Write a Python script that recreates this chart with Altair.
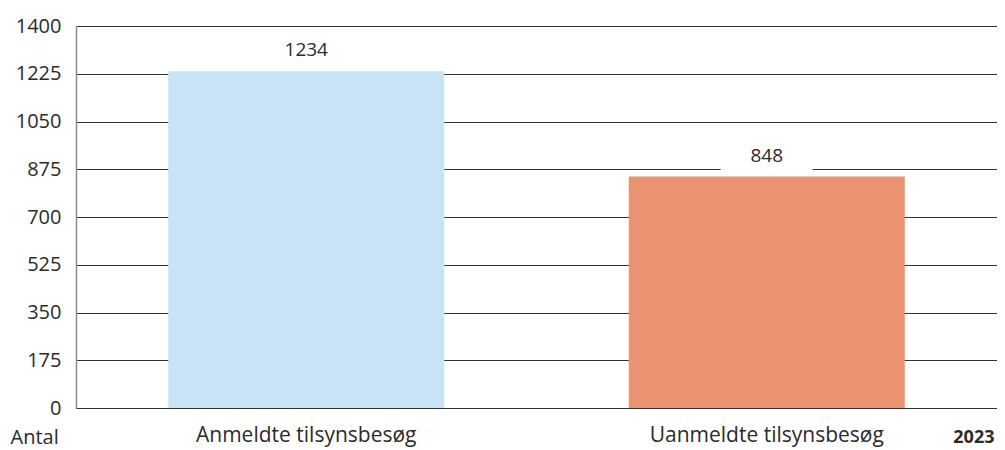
import altair as alt
import pandas as pd

categories = ["Anmeldte tilsynsbesøg", "Uanmeldte tilsynsbesøg"]
values = [1234, 848]
colors = ["#c8e3f5", "#ea9370"]
y_ticks = [0, 175, 350, 525, 700, 875, 1050, 1225, 1400]

df = pd.DataFrame({"kategori": categories, "antal": values, "farve": colors})

FONT = "Open Sans"
TXT = "#2b2b2b"

x_enc = alt.X(
    "kategori:N",
    sort=None,
    scale=alt.Scale(paddingInner=0, paddingOuter=0),
    axis=alt.Axis(
        title="2023",
        titleX=918, titleY=29, titleAlign="right", titleBaseline="middle",
        titleAngle=0, titleFontSize=18, titleFontWeight="bold", titleColor=TXT,
        titleFont=FONT,
        labelAngle=0, labelFontSize=21, labelColor=TXT, labelFont=FONT,
        labelPadding=16, labelBaseline="top", labelLimit=0,
        ticks=False, domainColor="#333333", domainWidth=1, grid=False,
    ),
)

y_enc = alt.Y(
    "antal:Q",
    scale=alt.Scale(domain=[0, 1400], nice=False),
    axis=alt.Axis(
        values=y_ticks, format="d", title="Antal",
        titleX=-66, titleY=411, titleAngle=0, titleAlign="left",
        titleBaseline="middle", titleFontSize=20, titleFontWeight="normal",
        titleColor=TXT, titleFont=FONT,
        labelFontSize=20, labelColor=TXT, labelFont=FONT, labelPadding=15,
        ticks=False, domainColor="#8a8a8a", domainWidth=1.5,
        grid=True, gridColor="#333333", gridWidth=1,
    ),
)

bars = alt.Chart(df).mark_bar(size=276).encode(
    x=x_enc,
    y=y_enc,
    color=alt.Color("farve:N", scale=None, legend=None),
)

boxes = alt.Chart(df).mark_point(
    shape="M-1,-0.4L1,-0.4L1,0.4L-1,0.4Z",
    size=8464, filled=True, color="white", opacity=1, yOffset=-21,
).encode(x=alt.X("kategori:N", sort=None), y="antal:Q")

labels = alt.Chart(df).mark_text(
    dy=-21, fontSize=19, font=FONT, color=TXT, baseline="middle",
).encode(
    x=alt.X("kategori:N", sort=None),
    y="antal:Q",
    text=alt.Text("antal:Q", format="d"),
)

chart = (
    alt.layer(bars, boxes, labels)
    .properties(
        width=921, height=382,
        autosize=alt.AutoSizeParams(type="none"),
        padding={"left": 68, "top": 18, "right": 0, "bottom": 41},
    )
    .configure_view(stroke=None)
)

chart.save("out.html", embed_options={"renderer": "svg", "actions": False})
